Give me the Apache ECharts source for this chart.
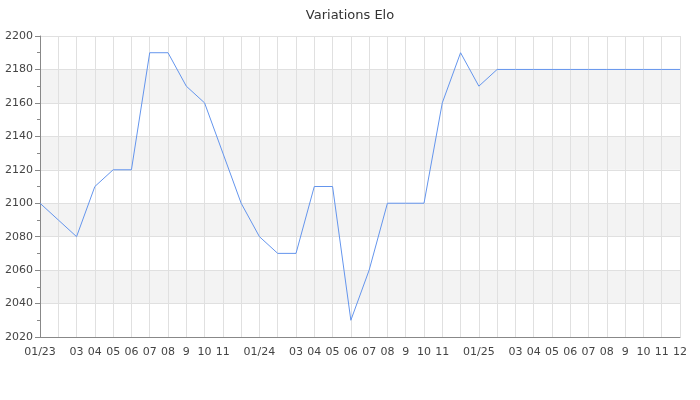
<!DOCTYPE html>
<html><head><meta charset="utf-8">
<script src="https://cdn.jsdelivr.net/npm/echarts@6/dist/echarts.min.js"></script>
<style>html,body{margin:0;padding:0;background:#fff}#c{width:700px;height:400px}</style>
</head><body><div id="c"></div>
<script>
var months = ['01/23','02/23','03/23','04/23','05/23','06/23','07/23','08/23','09/23','10/23','11/23','12/23',
              '01/24','02/24','03/24','04/24','05/24','06/24','07/24','08/24','09/24','10/24','11/24','12/24',
              '01/25','02/25','03/25','04/25','05/25','06/25','07/25','08/25','09/25','10/25','11/25','12/25'];
var tickLabels = ['01/23','','03','04','05','06','07','08','9','10','11','',
                  '01/24','','03','04','05','06','07','08','9','10','11','',
                  '01/25','','03','04','05','06','07','08','9','10','11','12'];
var elo = [2100,2090,2080,2110,2120,2120,2190,2190,2170,2160,2130,2100,
           2080,2070,2070,2110,2110,2030,2060,2100,2100,2100,2160,2190,
           2170,2180,2180,2180,2180,2180,2180,2180,2180,2180,2180,2180];
var chart = echarts.init(document.getElementById('c'));
var font = 'DejaVu Sans';
chart.setOption({
  animation: false,
  title: {text: 'Variations Elo', left: 'center', top: 4,
    textStyle: {fontFamily: font, fontSize: 13, fontWeight: 'normal', color: '#333'}},
  grid: {left: 40, right: 20, top: 36, bottom: 63},
  xAxis: {
    type: 'category', data: months, boundaryGap: false,
    axisLine: {lineStyle: {color: '#888'}},
    axisTick: {show: false},
    axisLabel: {interval: 0, fontFamily: font, fontSize: 11, color: '#444', margin: 10,
      formatter: function (v, i) { return tickLabels[i]; }},
    splitLine: {show: true, interval: 0, lineStyle: {color: '#e0e0e0'}}
  },
  yAxis: {
    type: 'value', min: 2020, max: 2200, interval: 20,
    axisLine: {show: true, lineStyle: {color: '#888'}},
    axisTick: {show: true, length: 5, lineStyle: {color: '#888'}},
    minorTick: {show: true, splitNumber: 2, length: 3, lineStyle: {color: '#888'}},
    axisLabel: {fontFamily: font, fontSize: 11, color: '#444', margin: 7,
      formatter: function (v) { return String(v); }},
    splitLine: {lineStyle: {color: '#e0e0e0'}},
    splitArea: {show: true, areaStyle: {color: ['rgba(255,255,255,0)', '#f3f3f3']}}
  },
  series: [{
    type: 'line', data: elo, showSymbol: false, symbol: 'none',
    lineStyle: {color: '#6495ED', width: 1}
  }]
});
</script></body></html>
